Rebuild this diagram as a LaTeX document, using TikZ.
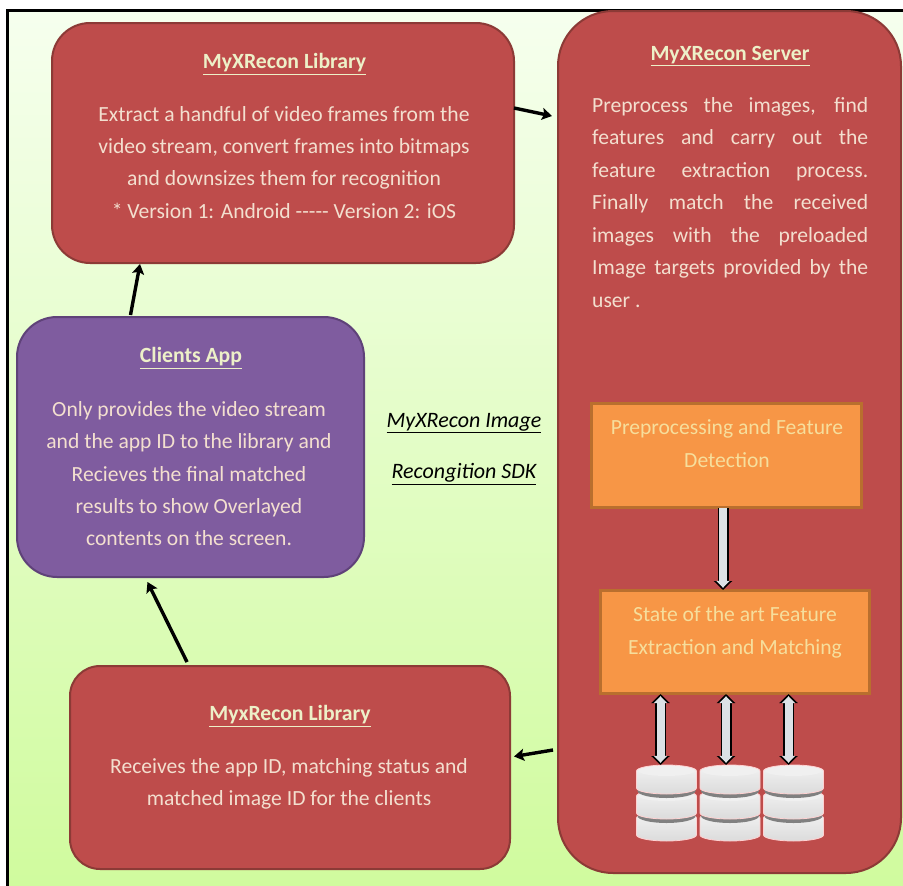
\documentclass[tikz,border=0pt]{standalone}
\usepackage{fontspec}
\setmainfont{Carlito}
\usetikzlibrary{calc,arrows.meta}
\definecolor{redfill}{HTML}{BE4C4B}
\definecolor{redline}{HTML}{8C3A36}
\definecolor{purplefill}{HTML}{7F5C9F}
\definecolor{purpleline}{HTML}{5F4279}
\definecolor{orangefill}{HTML}{F79646}
\definecolor{orangeline}{HTML}{B96F2E}
\definecolor{bodytext}{HTML}{F3DFCF}
\definecolor{titletext}{HTML}{EDF0C8}
\definecolor{orangetext}{HTML}{F6DE9C}
\definecolor{bgtop}{HTML}{F6FFEE}
\definecolor{bgbot}{HTML}{D0FB9E}
\definecolor{arrowgray}{HTML}{DCE2E6}
\tikzset{
  x=1pt,y=1pt,
  panel/.style={rounded corners=#1,draw=redline,fill=redfill,line width=2pt,inner sep=0pt,outer sep=0pt},
  purplepanel/.style={panel=#1,draw=purpleline,fill=purplefill},
  orangebox/.style={draw=orangeline,fill=orangefill,line width=3pt,inner sep=0pt,outer sep=0pt},
  titlelabel/.style={text=titletext,font=\fontsize{21.7}{26}\selectfont\bfseries,inner sep=0pt},
  bodylabel/.style={text=bodytext,align=center,inner sep=0pt,font=\fontsize{21.6}{32.4}\selectfont},
  orangelabel/.style={text=orangetext,align=center,inner sep=0pt,font=\fontsize{21.6}{32.8}\selectfont},
  sdklabel/.style={text=black,inner sep=0pt,font=\fontsize{22}{26}\selectfont\itshape},
  flow/.style={line width=3.4pt,draw=black,-{Stealth[length=10pt,width=12pt,inset=2pt]}},
  hollow/.style={line width=8pt,draw=arrowgray,shorten >=2.2pt,-{Triangle[length=7pt,width=13pt]},
    preaction={draw=black,line width=11pt,shorten >=0pt,-{Triangle[length=9pt,width=18pt]}}},
  hollowboth/.style={line width=8pt,draw=arrowgray,shorten >=2.2pt,shorten <=2.2pt,{Triangle[length=7pt,width=13pt]}-{Triangle[length=7pt,width=13pt]},
    preaction={draw=black,line width=11pt,shorten >=0pt,shorten <=0pt,{Triangle[length=9pt,width=18pt]}-{Triangle[length=9pt,width=18pt]}}},
  dbnode/.style={minimum width=61pt,minimum height=76pt,inner sep=0pt,outer sep=0pt},
  discbody/.pic={
    \shade[top color=white!90!gray,bottom color=white!72!gray,draw=white!82!red,line width=.8pt]
      (-30,-6) -- (-30,-23) arc[start angle=180,end angle=360,x radius=30,y radius=6] -- (30,-6)
      arc[start angle=0,end angle=180,x radius=30,y radius=6] -- cycle;
    \fill[white!88!gray] (0,-6) ellipse[x radius=28,y radius=5];
  },
  discshadow/.pic={
    \fill[black!50] (-29,-20) -- (-29,-26) arc[start angle=180,end angle=360,x radius=29,y radius=7] -- (29,-20) -- cycle;
  },
  dbstack/.pic={
    \pic at (0,-47) {discbody};
    \pic at (0,-25) {discshadow};
    \pic at (0,-25) {discbody};
    \pic at (0,0) {discshadow};
    \pic at (0,0) {discbody};
  }
}
\begin{document}
\begin{tikzpicture}
\useasboundingbox (0,0) rectangle (903,-886);
\fill[white] (0,0) rectangle (903,-886);
\shade[top color=bgtop,bottom color=bgbot,middle color=bgtop!50!bgbot] (9,-11) rectangle (903,-886);
\draw[black,line width=3pt] (7.5,-886) -- (7.5,-10) -- (903,-10);

\node[panel=38pt,minimum width=462pt,minimum height=240pt] (libtop) at (283,-143) {};
\node[panel=55pt,minimum width=343pt,minimum height=862pt] (server) at (729.5,-442) {};
\node[purplepanel=40pt,minimum width=347pt,minimum height=260pt] (client) at (190.5,-447) {};
\node[panel=30pt,minimum width=440pt,minimum height=203pt] (libbot) at (290,-767.5) {};
\node[orangebox,minimum width=270pt,minimum height=104pt] (prep) at (726,-455) {};
\node[orangebox,minimum width=269pt,minimum height=103pt] (match) at (734.5,-641.5) {};

\node[dbnode] (dba) at (666.5,-803) {};
\node[dbnode] (dbb) at (730,-803) {};
\node[dbnode] (dbc) at (793.5,-803) {};
\pic at (dba.north) {dbstack};
\pic at (dbb.north) {dbstack};
\pic at (dbc.north) {dbstack};

\node[titlelabel] (t1) at (284.5,-64) {\underline{MyXRecon Library}};
\node[bodylabel,anchor=north] (b1) at (284,-106) {Extract a handful of video frames from the\\video stream, convert frames into bitmaps\\and downsizes them for recognition\\* Version 1: Android {-}{-}{-}{-}{-} Version 2: iOS};

\node[titlelabel] (t2) at (730,-56) {\underline{MyXRecon Server}};
\node[bodylabel,anchor=north west,align=left,font=\fontsize{21.6}{32.5}\selectfont] (b2) at (592,-97) {%
\makebox[276pt][s]{Preprocess the images, find}\\
\makebox[276pt][s]{features and carry out the}\\
\makebox[276pt][s]{feature extraction process.}\\
\makebox[276pt][s]{Finally match the received}\\
\makebox[276pt][s]{images with the preloaded}\\
\makebox[276pt][s]{Image targets provided by the}\\
user .};

\node[titlelabel] (t3) at (191,-358) {\underline{Clients App}};
\node[bodylabel,anchor=north] (b3) at (189,-401) {Only provides the video stream\\and the app ID to the library and\\Recieves the final matched\\results to show Overlayed\\contents on the screen.};

\node[titlelabel] (t4) at (290,-716) {\underline{MyxRecon Library}};
\node[bodylabel,anchor=north] (b4) at (289,-758) {Receives the app ID, matching status and\\matched image ID for the clients};

\node[orangelabel,anchor=north] (o1) at (727,-419) {Preprocessing and Feature\\Detection};
\node[orangelabel,anchor=north] (o2) at (735,-606) {State of the art Feature\\Extraction and Matching};

\node[sdklabel] (s1) at (464,-423) {\underline{MyXRecon Image}};
\node[sdklabel] (s2) at (464,-474) {\underline{Recongition SDK}};

\draw[flow] ($(client.north)+(-60,2)$) -- ($(libtop.south)+(-143,-1)$);
\draw[flow] ($(libtop.east)+(0,35)$) -- ($(server.west)+(-6,326)$);
\draw[flow] ($(server.west)+(-5,-308)$) -- ($(libbot.east)+(4,11)$);
\draw[flow] ($(libbot.north)+(-103,4)$) -- ($(client.south)+(-43,-5)$);

\coordinate (pa) at ($(prep.south)+(-3,-1)$);
\draw[hollow] (pa) -- (pa |- match.north);
\coordinate (da) at ($(dba.north)+(-6,0)$);
\coordinate (db) at ($(dbb.north)+(-4,0)$);
\coordinate (dc) at ($(dbc.north)+(-5,0)$);
\draw[hollowboth] (da) -- ($(da |- match.south)+(0,-1)$);
\draw[hollowboth] (db) -- ($(db |- match.south)+(0,-1)$);
\draw[hollowboth] (dc) -- ($(dc |- match.south)+(0,-1)$);
\end{tikzpicture}
\end{document}
